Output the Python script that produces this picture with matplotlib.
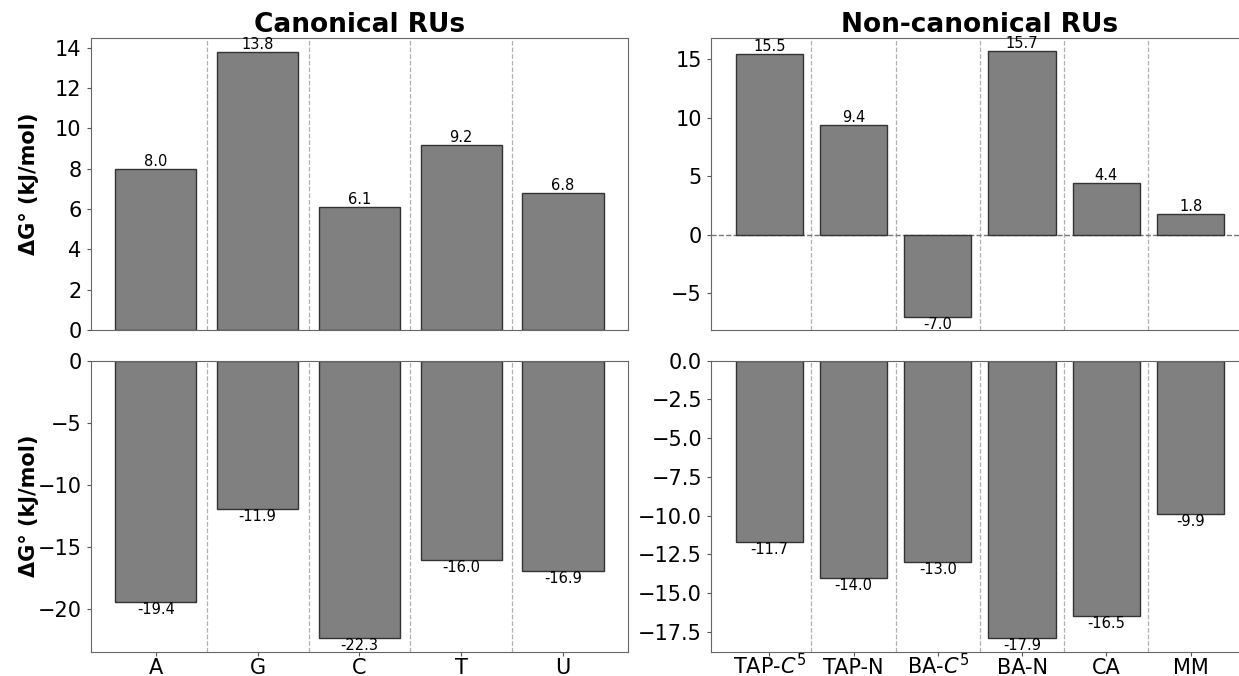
import matplotlib
matplotlib.use('Agg')
import matplotlib.pyplot as plt
import numpy as np

# canonical and non-canonical recognition units
canon_names = ['A', 'G', 'C', 'T', 'U']
canon_top = [8.0, 13.8, 6.1, 9.2, 6.8]
canon_bot = [-19.4, -11.9, -22.3, -16.0, -16.9]

noncanon_names = ['TAP-$C^5$', 'TAP-N', 'BA-$C^5$', 'BA-N', 'CA', 'MM']
noncanon_top = [15.5, 9.4, -7.0, 15.7, 4.4, 1.8]
noncanon_bot = [-11.7, -14.0, -13.0, -17.9, -16.5, -9.9]

fig = plt.figure(figsize=(12.39, 6.76), dpi=100)

# axes positions (right column runs off the edge like the reference)
w, h = 0.434, 0.432
ax_tl = fig.add_axes([0.0731, 0.5118, w, h])
ax_bl = fig.add_axes([0.0731, 0.0355, w, 0.4312], sharex=ax_tl)
ax_tr = fig.add_axes([0.5739, 0.5118, w, h])
ax_br = fig.add_axes([0.5739, 0.0355, w, 0.4312], sharex=ax_tr)


def draw(ax, names, vals):
    x = np.arange(len(names))
    bars = ax.bar(x, vals, width=0.8, color='#808080', edgecolor='#333333', linewidth=1.0, zorder=2)
    for b, v in zip(bars, vals):
        if v >= 0:
            ax.text(b.get_x() + b.get_width() / 2, v, f'{v:.1f}', ha='center', va='bottom', fontsize=10.5)
        else:
            ax.text(b.get_x() + b.get_width() / 2, v, f'{v:.1f}', ha='center', va='top', fontsize=10.5)
    for xx in x[:-1]:
        ax.axvline(xx + 0.5, color='#b0b0b0', linestyle='--', linewidth=0.9, zorder=1)
    ax.tick_params(labelsize=15, color='#555555', length=3)
    for s in ax.spines.values():
        s.set_color('#666666')


draw(ax_tl, canon_names, canon_top)
draw(ax_bl, canon_names, canon_bot)
draw(ax_tr, noncanon_names, noncanon_top)
draw(ax_br, noncanon_names, noncanon_bot)

ax_tr.axhline(0, color='#777777', linestyle='--', linewidth=1.0, zorder=1)

ax_bl.set_xticks(range(len(canon_names)))
ax_bl.set_xticklabels(canon_names)
ax_br.set_xticks(range(len(noncanon_names)))
ax_br.set_xticklabels(noncanon_names)
# put all x labels on one baseline (superscripts would push them down otherwise)
for ax in (ax_bl, ax_br):
    ax.tick_params(axis='x', pad=13)
    for lab in ax.get_xticklabels():
        lab.set_verticalalignment('baseline')
for ax in (ax_tl, ax_tr):
    ax.tick_params(axis='x', bottom=False, labelbottom=False)

ax_tl.set_yticks([0, 2, 4, 6, 8, 10, 12, 14])
ax_bl.set_yticks([0, -5, -10, -15, -20])
ax_tr.set_yticks([-5, 0, 5, 10, 15])
ax_br.set_yticks([0.0, -2.5, -5.0, -7.5, -10.0, -12.5, -15.0, -17.5])

ax_tl.set_title('Canonical RUs', fontsize=19, fontweight='bold', pad=4)
ax_tr.set_title('Non-canonical RUs', fontsize=19, fontweight='bold', pad=4)

for ax in (ax_tl, ax_bl):
    ax.set_ylabel('ΔG° (kJ/mol)', fontsize=15, fontweight='bold')
    ax.yaxis.set_label_coords(-0.095, 0.5)

fig.savefig('out.png', dpi=100)
